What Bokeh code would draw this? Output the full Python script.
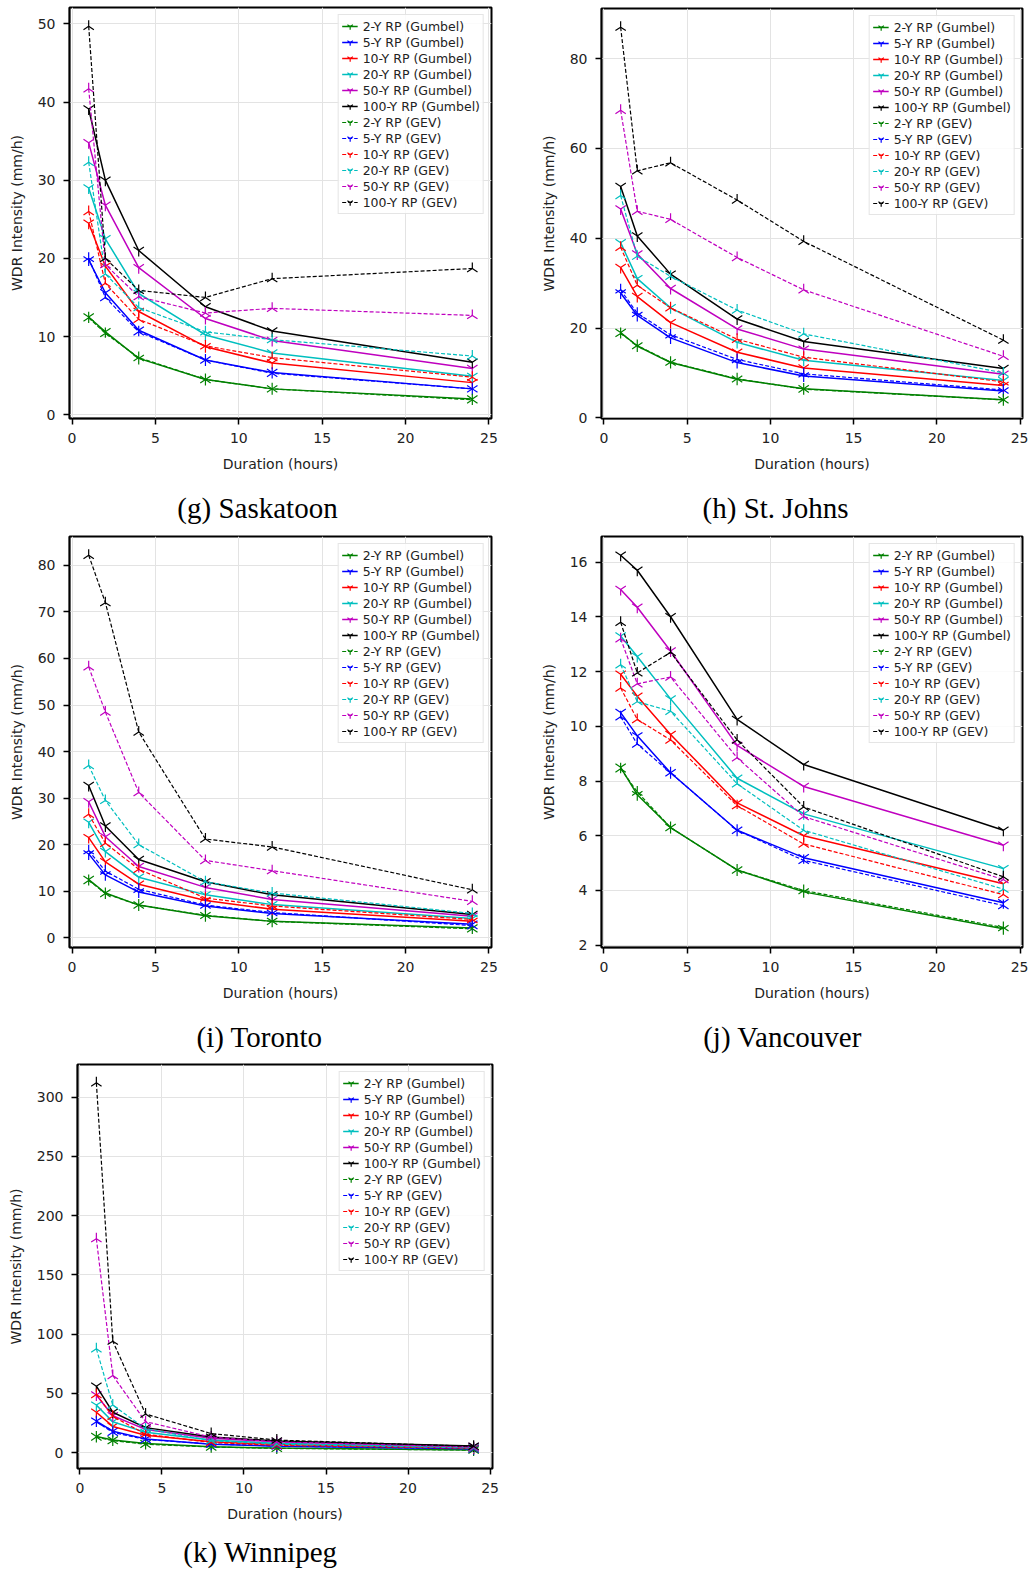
import math
from bokeh.plotting import figure
from bokeh.models import Range1d, FixedTicker
from bokeh.core.properties import value
from bokeh.layouts import column, row
from bokeh.embed import file_html
from bokeh.resources import INLINE

durations = [1, 2, 4, 8, 12, 24]
return_periods = ["2", "5", "10", "20", "50", "100"]
x_ticks = [0, 5, 10, 15, 20, 25]

# rows: 2, 5, 10, 20, 50, 100-year return period; columns: durations
saskatoon_gumbel = [
    [12.5, 10.6, 7.2, 4.5, 3.3, 2.0],
    [19.8, 15.6, 10.8, 7.0, 5.4, 3.3],
    [24.5, 19.0, 13.2, 8.7, 6.6, 4.1],
    [29.0, 22.5, 15.5, 10.2, 7.9, 4.9],
    [34.8, 26.8, 18.8, 12.3, 9.5, 5.9],
    [39.1, 30.0, 21.0, 13.8, 10.7, 6.7],
]
saskatoon_gev = [
    [12.4, 10.4, 7.3, 4.5, 3.3, 1.9],
    [20.0, 15.0, 10.6, 7.0, 5.3, 3.3],
    [26.0, 16.8, 12.2, 8.8, 7.3, 4.8],
    [32.3, 18.0, 13.7, 10.6, 9.6, 7.5],
    [41.7, 19.2, 15.1, 13.0, 13.6, 12.7],
    [49.7, 20.0, 15.9, 15.0, 17.4, 18.7],
]
saskatoon_yticks = [0, 10, 20, 30, 40, 50]

stjohns_gumbel = [
    [19.0, 16.0, 12.3, 8.6, 6.5, 4.0],
    [27.8, 22.8, 17.8, 12.3, 9.3, 6.0],
    [33.5, 27.0, 21.2, 14.6, 11.1, 7.2],
    [39.0, 31.0, 24.5, 16.8, 12.8, 8.3],
    [46.5, 36.5, 28.8, 19.8, 15.3, 9.7],
    [51.5, 40.5, 32.0, 22.0, 17.0, 11.0],
]
stjohns_gev = [
    [18.8, 16.1, 12.4, 8.7, 6.4, 4.0],
    [28.5, 23.3, 18.5, 13.0, 9.8, 6.2],
    [38.0, 29.5, 24.5, 17.5, 13.5, 8.0],
    [49.5, 36.0, 31.5, 24.0, 18.7, 10.0],
    [68.5, 46.0, 44.2, 35.7, 28.5, 13.7],
    [87.0, 55.0, 56.8, 48.5, 39.3, 17.3],
]
stjohns_yticks = [0, 20, 40, 60, 80]

toronto_gumbel = [
    [12.5, 9.6, 7.0, 4.7, 3.5, 2.1],
    [18.0, 13.5, 9.8, 6.8, 5.2, 2.9],
    [21.5, 16.3, 11.5, 8.0, 6.1, 3.5],
    [24.8, 18.5, 13.0, 9.2, 7.1, 4.1],
    [29.2, 21.7, 15.3, 10.8, 8.2, 4.6],
    [32.7, 24.0, 16.8, 12.0, 9.2, 5.0],
]
toronto_gev = [
    [12.3, 9.5, 7.0, 4.8, 3.5, 1.9],
    [18.7, 14.3, 10.4, 7.0, 5.4, 2.6],
    [26.5, 20.3, 14.7, 8.5, 6.8, 3.9],
    [37.0, 29.5, 20.0, 12.0, 9.6, 5.2],
    [58.2, 48.5, 31.2, 16.6, 14.4, 7.8],
    [82.2, 72.0, 44.2, 21.2, 19.5, 10.3],
]
toronto_yticks = [0, 10, 20, 30, 40, 50, 60, 70, 80]

vancouver_gumbel = [
    [8.5, 7.5, 6.3, 4.75, 3.95, 2.6],
    [10.5, 9.65, 8.3, 6.2, 5.2, 3.55],
    [11.9, 11.1, 9.7, 7.2, 6.0, 4.25],
    [13.3, 12.55, 11.0, 8.1, 6.8, 4.8],
    [15.0, 14.35, 12.75, 9.3, 7.8, 5.65],
    [16.25, 15.7, 14.0, 10.25, 8.6, 6.2],
]
vancouver_gev = [
    [8.45, 7.6, 6.3, 4.75, 4.0, 2.65],
    [10.35, 9.35, 8.3, 6.2, 5.1, 3.45],
    [11.4, 10.25, 9.5, 7.1, 5.7, 3.85],
    [12.25, 10.9, 10.55, 7.9, 6.2, 4.05],
    [13.2, 11.55, 11.8, 8.85, 6.7, 4.4],
    [13.8, 11.95, 12.7, 9.5, 7.05, 4.5],
]
vancouver_yticks = [2, 4, 6, 8, 10, 12, 14, 16]

winnipeg_gumbel = [
    [13.5, 10.5, 7.5, 4.8, 3.7, 2.2],
    [26.5, 18.0, 11.5, 7.0, 5.3, 3.2],
    [34.0, 22.0, 14.5, 9.0, 6.7, 3.9],
    [40.0, 26.0, 17.0, 10.5, 7.8, 4.5],
    [48.5, 31.0, 19.5, 12.0, 9.0, 5.0],
    [56.0, 34.0, 21.0, 13.0, 9.8, 5.4],
]
winnipeg_gev = [
    [13.0, 10.0, 7.0, 4.6, 3.5, 2.0],
    [26.0, 17.0, 11.0, 7.2, 5.5, 3.0],
    [49.0, 30.5, 15.5, 8.5, 6.0, 3.5],
    [87.5, 40.0, 20.0, 10.0, 7.0, 3.8],
    [180.5, 65.0, 26.0, 13.0, 9.0, 4.5],
    [312.0, 94.0, 32.5, 16.0, 10.5, 5.2],
]
winnipeg_yticks = [0, 50, 100, 150, 200, 250, 300]

captions = ["(g) Saskatoon", "(h) St. Johns", "(i) Toronto", "(j) Vancouver", "(k) Winnipeg"]

colors = ["#008000", "#0000ff", "#ff0000", "#00bfbf", "#bf00bf", "#000000"]
FONT = "DejaVu Sans"


def make_panel(gum, gev, yticks, W, H, L, R, T, B):
    allv = [v for s in gum + gev for v in s]
    lo, hi = min(allv), max(allv)
    pad = 0.05 * (hi - lo)
    y0, y1 = lo - pad, hi + pad
    xpad = 0.05 * (max(durations) - min(durations))
    x0, x1 = min(durations) - xpad, max(durations) + xpad

    p = figure(width=W, height=H, x_range=Range1d(x0, x1), y_range=Range1d(y0, y1),
               output_backend="svg", toolbar_location=None,
               min_border_left=L, min_border_right=W - R,
               min_border_top=T, min_border_bottom=H - B)
    p.background_fill_color = "white"
    p.border_fill_color = "white"
    p.outline_line_color = "black"
    p.outline_line_width = 2
    p.outline_line_alpha = 1

    p.xaxis.ticker = FixedTicker(ticks=x_ticks)
    p.yaxis.ticker = FixedTicker(ticks=yticks)
    for ax in (p.xaxis[0], p.yaxis[0]):
        ax.minor_tick_line_color = None
        ax.major_tick_in = 0
        ax.major_tick_out = 6
        ax.major_tick_line_width = 1.5
        ax.major_tick_line_color = "black"
        ax.axis_line_color = "black"
        ax.axis_line_width = 1.5
        ax.major_label_text_font = FONT
        ax.major_label_text_font_size = "14px"
        ax.major_label_text_color = "#222222"
        ax.major_label_standoff = 8
        ax.axis_label_text_font = FONT
        ax.axis_label_text_font_size = "14px"
        ax.axis_label_text_font_style = "normal"
        ax.axis_label_text_color = "#222222"
        ax.axis_label_standoff = 10
    p.xaxis.axis_label = "Duration (hours)"
    p.yaxis.axis_label = "WDR Intensity (mm/h)"
    p.xgrid.grid_line_color = "#e3e3e3"
    p.ygrid.grid_line_color = "#e3e3e3"

    for i, rp in enumerate(return_periods):
        lab = f"{rp}-Y RP (Gumbel)"
        p.line(durations, gum[i], line_color=colors[i], line_width=1.5, legend_label=lab)
        p.scatter(durations, gum[i], marker="y", size=12, line_color=colors[i],
                  line_width=1.2, legend_label=lab)
    for i, rp in enumerate(return_periods):
        lab = f"{rp}-Y RP (GEV)"
        p.line(durations, gev[i], line_color=colors[i], line_width=1.2,
               line_dash="4 2", legend_label=lab)
        p.scatter(durations, gev[i], marker="y", angle=math.pi, size=12,
                  line_color=colors[i], line_width=1.2, legend_label=lab)

    lg = p.legend[0]
    lg.location = "top_right"
    lg.margin = 7
    lg.padding = 3
    lg.spacing = 0
    lg.label_height = 16
    lg.glyph_height = 16
    lg.glyph_width = 16
    lg.label_standoff = 5
    lg.label_text_font = FONT
    lg.label_text_font_size = "12.5px"
    lg.label_text_color = "#222222"
    lg.border_line_color = "#cccccc"
    lg.border_line_width = 1
    lg.background_fill_color = "white"
    lg.background_fill_alpha = 0.85
    return p


def make_caption(text, W, H, L, R, cx, cy):
    # caption strip below a panel; its frame is aligned with the panel frame (L..R)
    c = figure(width=W, height=H, x_range=Range1d(L, R), y_range=Range1d(0, H),
               output_backend="svg", toolbar_location=None,
               min_border_left=L, min_border_right=W - R, min_border_top=0, min_border_bottom=0)
    c.axis.visible = False
    c.grid.visible = False
    c.outline_line_color = None
    c.text(x=[cx], y=[H - cy], text=[text], text_align="center", text_baseline="middle",
           text_font=value("Liberation Serif"), text_font_size="29px", text_color="black")
    return c


pg = make_panel(saskatoon_gumbel, saskatoon_gev, saskatoon_yticks, 520, 480, 69, 491, 7, 418)
ph = make_panel(stjohns_gumbel, stjohns_gev, stjohns_yticks, 508, 480, 81, 502, 8, 418)
pi_ = make_panel(toronto_gumbel, toronto_gev, toronto_yticks, 520, 480, 69, 491, 6, 417)
pj = make_panel(vancouver_gumbel, vancouver_gev, vancouver_yticks, 508, 480, 81, 502, 6, 417)
pk = make_panel(winnipeg_gumbel, winnipeg_gev, winnipeg_yticks, 520, 470, 77, 492, 4, 408)

cg = make_caption(captions[0], 520, 50, 69, 491, 257, 27)
ch = make_caption(captions[1], 508, 50, 81, 502, 255, 27)
ci = make_caption(captions[2], 520, 50, 69, 491, 259, 26)
cj = make_caption(captions[3], 508, 50, 81, 502, 262, 26)
ck = make_caption(captions[4], 520, 42, 77, 492, 260, 21)

layout = column(
    row(column(pg, cg, spacing=0), column(ph, ch, spacing=0), spacing=0),
    row(column(pi_, ci, spacing=0), column(pj, cj, spacing=0), spacing=0),
    column(pk, ck, spacing=0),
    spacing=0,
)

open("out.html", "w").write(file_html(layout, INLINE))
